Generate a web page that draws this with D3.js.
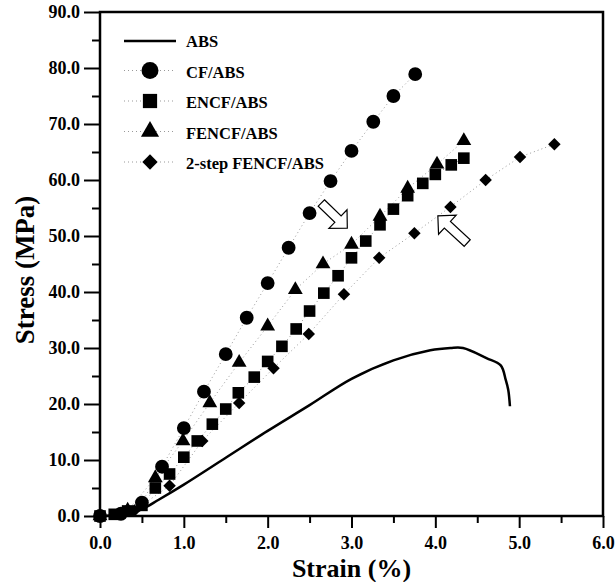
<!DOCTYPE html>
<html>
<head>
<meta charset="utf-8">
<script src="https://cdnjs.cloudflare.com/ajax/libs/d3/7.8.5/d3.min.js"></script>
<style>
  body { margin: 0; background: #fff; }
  text { font-family: "Liberation Serif", "Times New Roman", serif; font-weight: bold; }
</style>
</head>
<body>
<div id="chart"></div>
<script>
// Stress-strain data (strain %, stress MPa)
const absStrain = [0, 0.3, 0.5, 0.7, 1.0, 1.5, 2.0, 2.5, 3.0, 3.5, 3.94, 4.18, 4.33, 4.61, 4.78, 4.84, 4.87, 4.89];
const absStress = [0, 0.3, 1.2, 2.9, 5.6, 10.4, 15.2, 19.8, 24.5, 27.8, 29.6, 30.0, 30.0, 28.2, 26.9, 24.3, 22.5, 19.6];

const cfStrain = [0, 0.25, 0.5, 0.74, 1.0, 1.24, 1.5, 1.75, 2.0, 2.25, 2.5, 2.75, 3.0, 3.26, 3.5, 3.76];
const cfStress = [0, 0.4, 2.4, 8.8, 15.7, 22.2, 28.9, 35.4, 41.6, 47.9, 54.1, 59.8, 65.2, 70.4, 75.0, 78.9];

const encfStrain = [0, 0.17, 0.33, 0.5, 0.66, 0.83, 1.0, 1.16, 1.34, 1.5, 1.65, 1.84, 2.0, 2.17, 2.34, 2.5, 2.67, 2.84, 3.0, 3.17, 3.34, 3.5, 3.67, 3.85, 4.0, 4.19, 4.34];
const encfStress = [0, 0.3, 0.9, 1.9, 5.0, 7.5, 10.5, 13.4, 16.4, 19.1, 22.0, 24.8, 27.6, 30.3, 33.4, 36.6, 39.8, 42.9, 46.1, 49.1, 52.0, 54.8, 57.2, 59.4, 61.0, 62.7, 63.9];

const fencfStrain = [0, 0.33, 0.66, 0.99, 1.31, 1.66, 2.0, 2.33, 2.66, 3.0, 3.34, 3.67, 4.02, 4.34];
const fencfStress = [0, 1.0, 6.8, 13.4, 20.2, 27.4, 33.9, 40.4, 45.0, 48.5, 53.5, 58.5, 62.8, 67.0];

const step2Strain = [0, 0.41, 0.83, 1.22, 1.66, 2.07, 2.49, 2.91, 3.33, 3.75, 4.18, 4.6, 5.01, 5.42];
const step2Stress = [0, 1.0, 5.4, 13.4, 20.2, 26.4, 32.5, 39.6, 46.1, 50.5, 55.2, 60.0, 64.1, 66.4];

const seriesNames = ["ABS", "CF/ABS", "ENCF/ABS", "FENCF/ABS", "2-step FENCF/ABS"];
const xTicks = [0, 1, 2, 3, 4, 5, 6];
const yTicks = [0, 10, 20, 30, 40, 50, 60, 70, 80, 90];

// annotation arrows: [tail strain, tail stress, tip strain, tip stress]
const arrows = [
  [2.64, 55.9, 2.95, 51.4],
  [4.38, 48.75, 4.03, 53.6]
];

const zip = (xs, ys) => xs.map((x, i) => ({ x: x, y: ys[i] }));
const absData = zip(absStrain, absStress);
// rot: extra rotation so the square turns into a 45° diamond
const markerSeries = [
  { name: seriesNames[1], shape: d3.symbolCircle, size: 150, rot: 0, data: zip(cfStrain, cfStress) },
  { name: seriesNames[2], shape: d3.symbolSquare, size: 135, rot: 0, data: zip(encfStrain, encfStress) },
  { name: seriesNames[3], shape: d3.symbolTriangle, size: 95, rot: 0, data: zip(fencfStrain, fencfStress) },
  { name: seriesNames[4], shape: d3.symbolSquare, size: 78, rot: 45, data: zip(step2Strain, step2Stress) }
];

const W = 615, H = 582;
const plotL = 100, plotR = 603, plotT = 12, plotB = 516;

const svg = d3.select("#chart").append("svg")
  .attr("width", W).attr("height", H);

const x = d3.scaleLinear().domain([0, 6]).range([plotL, plotR]);
const y = d3.scaleLinear().domain([0, 90]).range([plotB, plotT]);

// minor ticks
svg.append("g")
  .attr("transform", `translate(${plotL},0)`)
  .call(d3.axisLeft(y).tickValues(d3.range(5, 90, 10)).tickSize(8).tickFormat(""))
  .call(g => g.select(".domain").remove())
  .selectAll("line").attr("stroke-width", 2);
svg.append("g")
  .attr("transform", `translate(0,${plotB})`)
  .call(d3.axisBottom(x).tickValues(d3.range(0.5, 6, 1)).tickSize(7).tickFormat(""))
  .call(g => g.select(".domain").remove())
  .selectAll("line").attr("stroke-width", 2);

// major ticks + labels
const yAxis = svg.append("g")
  .attr("transform", `translate(${plotL},0)`)
  .call(d3.axisLeft(y).tickValues(yTicks).tickSize(16).tickPadding(4).tickFormat(d3.format(".1f")));
yAxis.select(".domain").remove();
yAxis.selectAll("line").attr("stroke-width", 2);
yAxis.selectAll("text").attr("font-size", 18).attr("fill", "#000")
  .style("font-family", "'Liberation Serif', serif").style("font-weight", "bold");

const xAxis = svg.append("g")
  .attr("transform", `translate(0,${plotB})`)
  .call(d3.axisBottom(x).tickValues(xTicks).tickSize(12).tickPadding(8).tickFormat(d3.format(".1f")));
xAxis.select(".domain").remove();
xAxis.selectAll("line").attr("stroke-width", 2);
xAxis.selectAll("text").attr("font-size", 18).attr("fill", "#000")
  .style("font-family", "'Liberation Serif', serif").style("font-weight", "bold");

// frame
svg.append("rect")
  .attr("x", plotL).attr("y", plotT)
  .attr("width", plotR - plotL).attr("height", plotB - plotT)
  .attr("fill", "none").attr("stroke", "#000").attr("stroke-width", 2.5);

// dotted guide lines through the markers
const dotLine = d3.line().x(d => x(d.x)).y(d => y(d.y));
markerSeries.forEach(s => {
  svg.append("path")
    .datum(s.data)
    .attr("d", dotLine)
    .attr("fill", "none")
    .attr("stroke", "#999")
    .attr("stroke-width", 1)
    .attr("stroke-dasharray", "1,3");
});

// ABS solid curve
svg.append("path")
  .datum(absData)
  .attr("d", d3.line().x(d => x(d.x)).y(d => y(d.y)).curve(d3.curveCatmullRom.alpha(0.5)))
  .attr("fill", "none")
  .attr("stroke", "#000")
  .attr("stroke-width", 2.5);

// markers
markerSeries.forEach(s => {
  svg.append("g").selectAll("path")
    .data(s.data)
    .enter()
    .append("path")
    .attr("transform", d => `translate(${x(d.x)},${y(d.y)}) rotate(${s.rot})`)
    .attr("d", d3.symbol().type(s.shape).size(s.size))
    .attr("fill", "#000");
});

// hollow block arrows
arrows.forEach(a => {
  const x0 = x(a[0]), y0 = y(a[1]), x1 = x(a[2]), y1 = y(a[3]);
  const len = Math.hypot(x1 - x0, y1 - y0);
  const ang = Math.atan2(y1 - y0, x1 - x0) * 180 / Math.PI;
  const hw = 4.5, headL = 13, headW = 13;
  const pts = [[0, -hw], [len - headL, -hw], [len - headL, -headW], [len, 0],
               [len - headL, headW], [len - headL, hw], [0, hw]];
  svg.append("polygon")
    .attr("points", pts.map(p => p.join(",")).join(" "))
    .attr("transform", `translate(${x0},${y0}) rotate(${ang})`)
    .attr("fill", "#fff")
    .attr("stroke", "#000")
    .attr("stroke-width", 1.2);
});

// legend
const legX = 124, legX2 = 176, legText = 186, legY0 = 41, legDy = 30.5;
svg.append("line")
  .attr("x1", legX).attr("x2", legX2).attr("y1", legY0).attr("y2", legY0)
  .attr("stroke", "#000").attr("stroke-width", 2.5);
markerSeries.forEach((s, i) => {
  const ly = legY0 + legDy * (i + 1) - 1;
  svg.append("line")
    .attr("x1", legX).attr("x2", legX2).attr("y1", ly).attr("y2", ly)
    .attr("stroke", "#999").attr("stroke-width", 1).attr("stroke-dasharray", "1,3");
  svg.append("path")
    .attr("transform", `translate(${(legX + legX2) / 2},${ly}) rotate(${s.rot})`)
    .attr("d", d3.symbol().type(s.shape).size(s.size * 1.5))
    .attr("fill", "#000");
});
seriesNames.forEach((n, i) => {
  svg.append("text")
    .attr("x", legText)
    .attr("y", legY0 + legDy * i + 6)
    .attr("font-size", 16.5)
    .text(n);
});

// axis titles
svg.append("text")
  .attr("x", (plotL + plotR) / 2)
  .attr("y", 577)
  .attr("text-anchor", "middle")
  .attr("font-size", 26)
  .text("Strain (%)");

svg.append("text")
  .attr("transform", `translate(34,270) rotate(-90)`)
  .attr("text-anchor", "middle")
  .attr("font-size", 27)
  .text("Stress (MPa)");
</script>
</body>
</html>
